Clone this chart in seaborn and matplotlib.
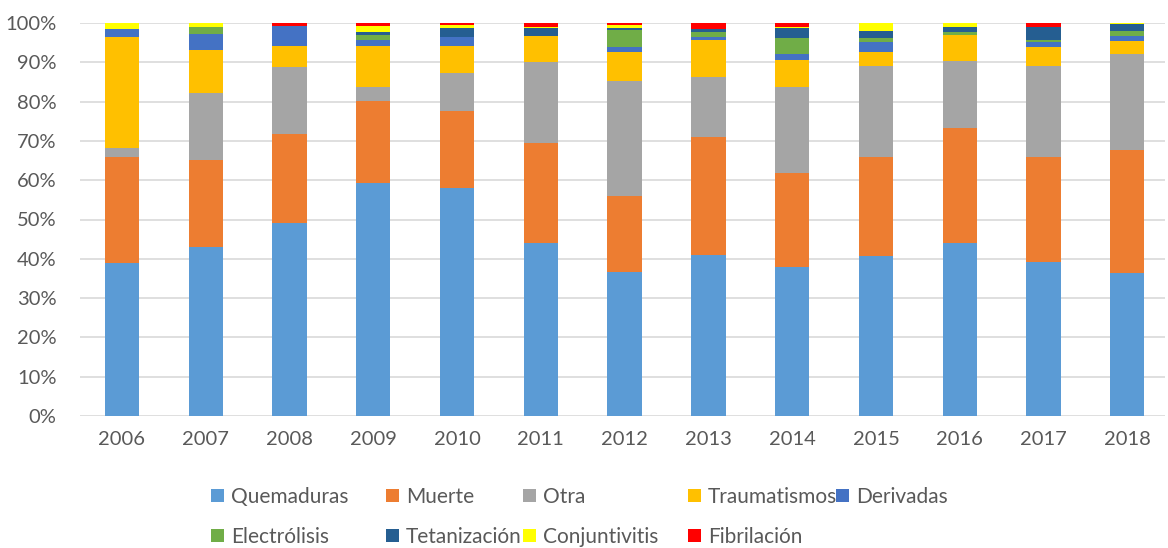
import numpy as np
import pandas as pd
import matplotlib
matplotlib.use("Agg")
import matplotlib.pyplot as plt
import seaborn as sns
from matplotlib.patches import Patch

years = ["2006", "2007", "2008", "2009", "2010", "2011", "2012",
         "2013", "2014", "2015", "2016", "2017", "2018"]

quemaduras    = [38.9, 43.0, 49.1, 59.3, 58.0, 44.0, 36.6, 41.0, 37.9, 40.7, 44.0, 39.2, 36.4]
muerte        = [27.0, 22.1, 22.7, 20.9, 19.6, 25.5, 19.4, 30.0, 23.9, 25.2, 29.3, 26.7, 31.3]
otra          = [2.3, 17.1, 17.0, 3.5, 9.7, 20.6, 29.2, 15.3, 21.9, 23.2, 17.0, 23.1, 24.3]
traumatismos  = [28.3, 10.9, 5.4, 10.5, 6.9, 6.6, 7.5, 9.3, 6.8, 3.6, 6.6, 5.0, 3.4]
derivadas     = [2.0, 4.0, 5.0, 1.6, 2.3, 0.0, 1.1, 0.9, 1.6, 2.4, 0.0, 1.1, 1.4]
electrolisis  = [0.0, 1.8, 0.0, 1.2, 0.0, 0.0, 4.5, 1.2, 4.0, 1.1, 0.8, 0.7, 1.1]
tetanizacion  = [0.0, 0.0, 0.0, 0.7, 2.3, 2.0, 0.4, 0.8, 2.6, 1.7, 1.2, 3.1, 1.8]
conjuntivitis = [1.5, 1.1, 0.0, 1.5, 0.6, 0.4, 0.8, 0.0, 0.4, 2.1, 1.1, 0.0, 0.3]
fibrilacion   = [0.0, 0.0, 0.8, 0.8, 0.6, 0.9, 0.5, 1.5, 0.9, 0.0, 0.0, 1.1, 0.0]

series_names = ["Quemaduras", "Muerte", "Otra", "Traumatismos", "Derivadas",
                "Electrólisis", "Tetanización", "Conjuntivitis", "Fibrilación"]
series_values = [quemaduras, muerte, otra, traumatismos, derivadas,
                 electrolisis, tetanizacion, conjuntivitis, fibrilacion]
colors = ["#5B9BD5", "#ED7D31", "#A5A5A5", "#FFC000", "#4472C4",
          "#70AD47", "#255E91", "#FFFF00", "#FF0000"]

sns.set_theme(style="white")
plt.rcParams["font.family"] = ["Lato", "DejaVu Sans"]

fig = plt.figure(figsize=(11.68, 5.48), dpi=100)
ax = fig.add_axes([80 / 1168, 1 - 416 / 548, 1085 / 1168, (416 - 23) / 548])

cum = np.cumsum(np.array(series_values), axis=0)
# draw from top cumulative down so lower segments overlay
for i in range(len(series_names) - 1, -1, -1):
    df = pd.DataFrame({"year": years, "value": cum[i]})
    sns.barplot(data=df, x="year", y="value", color=colors[i], saturation=1,
                width=0.41, ax=ax, linewidth=0, zorder=3)

ax.set_xlim(-0.5, 12.45)
ax.set_ylim(0, 100)
ax.set_yticks(np.arange(0, 101, 10))
ax.set_yticklabels([f"{v}%" for v in range(0, 101, 10)])
ax.yaxis.grid(True, color="#D9D9D9", linewidth=1.2, zorder=0)
ax.xaxis.grid(False)
for s in ax.spines.values():
    s.set_visible(False)
ax.tick_params(axis="both", length=0, labelsize=14.5, labelcolor="#595959")
ax.tick_params(axis="x", pad=11)
ax.tick_params(axis="y", pad=17)
ax.set_xlabel("")
ax.set_ylabel("")

# legend: columns positioned like the reference
col_x = [211, 386, 523, 688, 836]
rows = [[0, 5], [1, 6], [2, 7], [3, 8], [4]]
for cx, idxs in zip(col_x, rows):
    handles = [Patch(facecolor=colors[k], edgecolor="none", label=series_names[k]) for k in idxs]
    leg = fig.legend(handles=handles, loc="upper left",
                     bbox_to_anchor=(cx / 1168, 1 - 487 / 548),
                     frameon=False, fontsize=15, handlelength=0.6, handleheight=0.6,
                     handletextpad=0.35, labelspacing=0.95, borderpad=0, borderaxespad=0)
    for t in leg.get_texts():
        t.set_color("#595959")

fig.savefig("out.png", dpi=100)
